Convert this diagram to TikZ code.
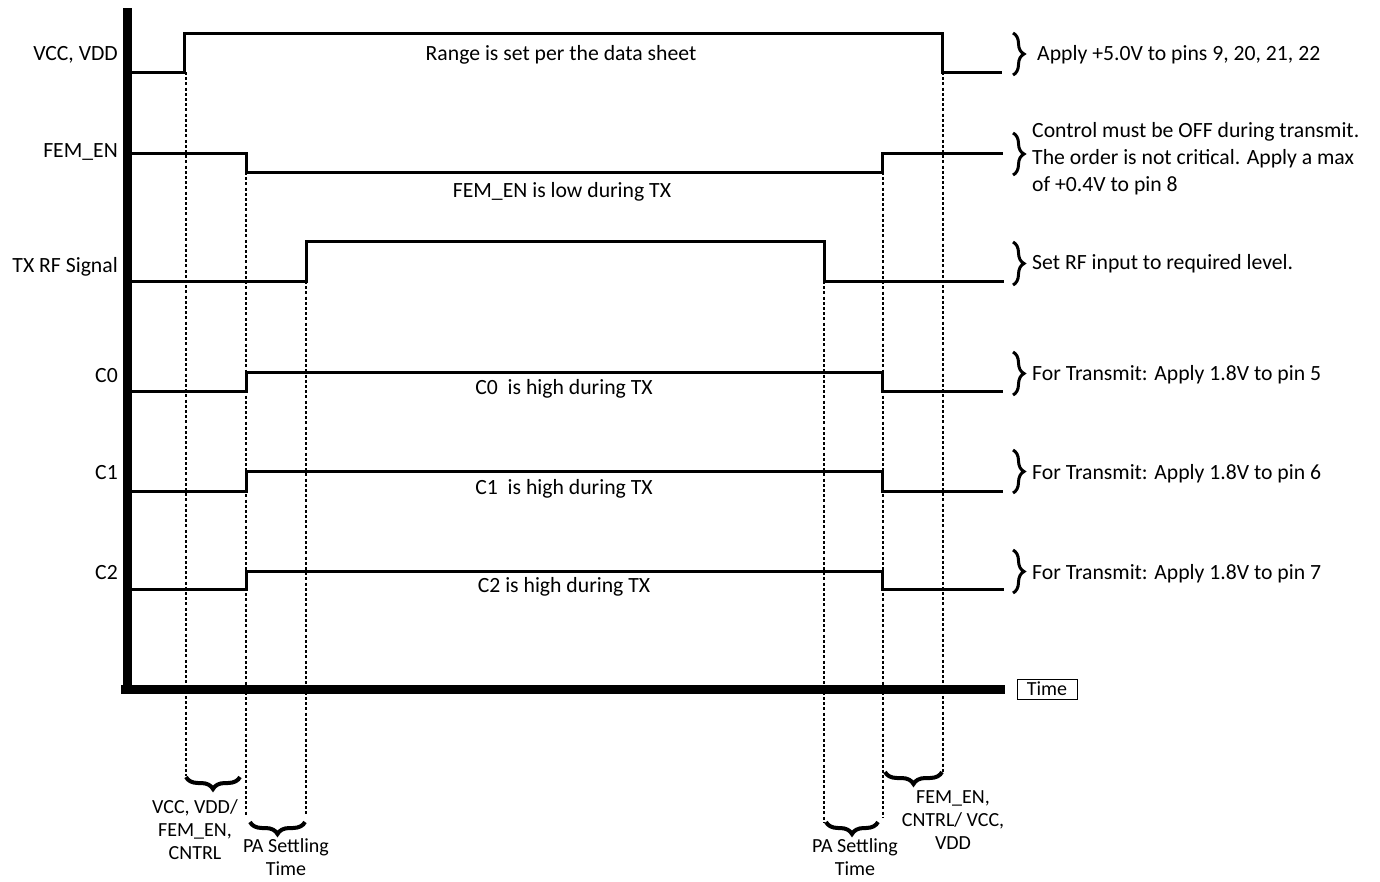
\documentclass[tikz,border=0pt]{standalone}
\usepackage{fontspec}
\setmainfont{Carlito}
\usetikzlibrary{decorations.pathreplacing}
\begin{document}
\begin{tikzpicture}[x=1pt,y=-1pt,
  sig/.style={line width=3pt},
  axisline/.style={line width=9pt},
  guide/.style={line width=2.6pt, dash pattern=on 3pt off 2.2pt},
  txt/.style={font=\fontsize{21.7}{27}\selectfont, inner sep=0pt},
  btxt/.style={font=\fontsize{20}{23}\selectfont, inner sep=0pt, align=center},
  bbrace/.style={decorate, decoration={brace, amplitude=12pt, mirror}, line width=4pt},
  rbrace/.style={decorate, decoration={brace, amplitude=11pt}, line width=3pt}]
\useasboundingbox (0,0) rectangle (1380,881);

% axes
\draw[axisline] (127,8) -- (127,693);
\draw[axisline] (121,689.5) -- (1005,689.5);

% dotted guides
\draw[guide] (186,72) -- (186,776);
\draw[guide] (246,172) -- (246,815);
\draw[guide] (306,281) -- (306,815);
\draw[guide] (824,281) -- (824,822);
\draw[guide] (883,172) -- (883,818);
\draw[guide] (943,72) -- (943,772);

% signals
\draw[sig] (131,72) -- (184,72) -- (184,33) -- (942,33) -- (942,72) -- (1002,72);
\draw[sig] (131,153) -- (246,153) -- (246,172) -- (882,172) -- (882,153) -- (1003,153);
\draw[sig] (131,281) -- (306,281) -- (306,241) -- (824,241) -- (824,281) -- (1004,281);
\draw[sig] (131,391) -- (246,391) -- (246,372) -- (882,372) -- (882,391) -- (1003,391);
\draw[sig] (131,491) -- (246,491) -- (246,471) -- (882,471) -- (882,491) -- (1003,491);
\draw[sig] (131,589) -- (246,589) -- (246,571) -- (882,571) -- (882,589) -- (1004,589);

% left labels
\node[txt, anchor=base east] (lvcc) at (118,60) {VCC, VDD};
\node[txt, anchor=base east] (lfem) at (118,157) {FEM\_EN};
\node[txt, anchor=base east] (ltx) at (118,272) {TX RF Signal};
\node[txt, anchor=base east] (lc0) at (118,382) {C0};
\node[txt, anchor=base east] (lc1) at (118,479) {C1};
\node[txt, anchor=base east] (lc2) at (118,579) {C2};

% middle labels
\node[txt, anchor=base] (mvcc) at (561,60) {Range is set per the data sheet};
\node[txt, anchor=base] (mfem) at (562,197) {FEM\_EN is low during TX};
\node[txt, anchor=base] (mc0) at (564,394) {C0\ \ is high during TX};
\node[txt, anchor=base] (mc1) at (564,494) {C1\ \ is high during TX};
\node[txt, anchor=base] (mc2) at (564,592) {C2 is high during TX};

% right braces
\draw[rbrace] (1013,33) -- (1013,75);
\draw[rbrace] (1013,133) -- (1013,175);
\draw[rbrace] (1013,242) -- (1013,285);
\draw[rbrace] (1013,352) -- (1013,395);
\draw[rbrace] (1013,450) -- (1013,493);
\draw[rbrace] (1013,550) -- (1013,593);

% right texts
\node[txt, anchor=base west] (rvcc) at (1037,60) {Apply +5.0V to pins 9, 20, 21, 22};
\node[txt, anchor=west, align=left] (rfem) at (1032,159) {Control must be OFF during transmit.\\The order is not critical. Apply a max\\of +0.4V to pin 8};
\node[txt, anchor=base west] (rtx) at (1032,269) {Set RF input to required level.};
\node[txt, anchor=base west] (rc0) at (1032,380) {For Transmit: Apply 1.8V to pin 5};
\node[txt, anchor=base west] (rc1) at (1032,479) {For Transmit: Apply 1.8V to pin 6};
\node[txt, anchor=base west] (rc2) at (1032,579) {For Transmit: Apply 1.8V to pin 7};

% time box
\node[draw, line width=1pt, minimum width=60pt, minimum height=20pt, inner sep=0pt,
      font=\fontsize{20}{24}\selectfont] (time) at (1047,689) {Time};

% bottom braces
\draw[bbrace] (186,777) -- (240,777);
\draw[bbrace] (250,822) -- (305,822);
\draw[bbrace] (826,822) -- (878,822);
\draw[bbrace] (885,772) -- (942,772);

% bottom labels
\node[btxt] (b1) at (195,830) {VCC, VDD/\\FEM\_EN,\\CNTRL};
\node[btxt] (b2) at (286,857) {PA Settling\\Time};
\node[btxt] (b3) at (855,857) {PA Settling\\Time};
\node[btxt] (b4) at (953,820) {FEM\_EN,\\CNTRL/ VCC,\\VDD};
\end{tikzpicture}
\end{document}
